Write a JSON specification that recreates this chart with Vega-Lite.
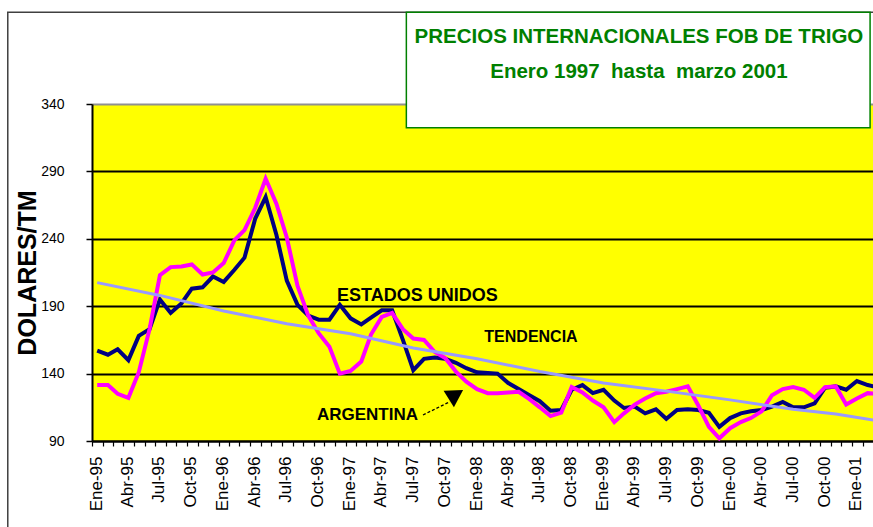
{
  "$schema": "https://vega.github.io/schema/vega-lite/v6.json",
  "width": 781,
  "height": 337,
  "autosize": "none",
  "padding": {"left": 92, "top": 104, "right": 0, "bottom": 86},
  "background": "#FFFFFF",
  "view": {"fill": "#FFFF00", "stroke": null},
  "config": {"font": "Liberation Sans"},
  "datasets": {
    "eeuu": [
      {"fecha": "1995-01-01", "v": 157}, {"fecha": "1995-02-01", "v": 154}, {"fecha": "1995-03-01", "v": 158}, {"fecha": "1995-04-01", "v": 150},
      {"fecha": "1995-05-01", "v": 168}, {"fecha": "1995-06-01", "v": 173}, {"fecha": "1995-07-01", "v": 195}, {"fecha": "1995-08-01", "v": 185},
      {"fecha": "1995-09-01", "v": 192}, {"fecha": "1995-10-01", "v": 203}, {"fecha": "1995-11-01", "v": 204}, {"fecha": "1995-12-01", "v": 212},
      {"fecha": "1996-01-01", "v": 208}, {"fecha": "1996-02-01", "v": 217}, {"fecha": "1996-03-01", "v": 226}, {"fecha": "1996-04-01", "v": 255},
      {"fecha": "1996-05-01", "v": 271}, {"fecha": "1996-06-01", "v": 243}, {"fecha": "1996-07-01", "v": 209}, {"fecha": "1996-08-01", "v": 191},
      {"fecha": "1996-09-01", "v": 183}, {"fecha": "1996-10-01", "v": 180}, {"fecha": "1996-11-01", "v": 180}, {"fecha": "1996-12-01", "v": 191},
      {"fecha": "1997-01-01", "v": 181}, {"fecha": "1997-02-01", "v": 176.5}, {"fecha": "1997-03-01", "v": 181.5}, {"fecha": "1997-04-01", "v": 187},
      {"fecha": "1997-05-01", "v": 187}, {"fecha": "1997-06-01", "v": 165}, {"fecha": "1997-07-01", "v": 142.5}, {"fecha": "1997-08-01", "v": 151},
      {"fecha": "1997-09-01", "v": 152}, {"fecha": "1997-10-01", "v": 151}, {"fecha": "1997-11-01", "v": 148}, {"fecha": "1997-12-01", "v": 144},
      {"fecha": "1998-01-01", "v": 141}, {"fecha": "1998-02-01", "v": 140.5}, {"fecha": "1998-03-01", "v": 140}, {"fecha": "1998-04-01", "v": 133},
      {"fecha": "1998-05-01", "v": 128.5}, {"fecha": "1998-06-01", "v": 124}, {"fecha": "1998-07-01", "v": 119.5}, {"fecha": "1998-08-01", "v": 112.5},
      {"fecha": "1998-09-01", "v": 113}, {"fecha": "1998-10-01", "v": 128}, {"fecha": "1998-11-01", "v": 131.5}, {"fecha": "1998-12-01", "v": 125.5},
      {"fecha": "1999-01-01", "v": 128}, {"fecha": "1999-02-01", "v": 120}, {"fecha": "1999-03-01", "v": 114.5}, {"fecha": "1999-04-01", "v": 115.5},
      {"fecha": "1999-05-01", "v": 110.5}, {"fecha": "1999-06-01", "v": 113.5}, {"fecha": "1999-07-01", "v": 106.5}, {"fecha": "1999-08-01", "v": 113},
      {"fecha": "1999-09-01", "v": 113.5}, {"fecha": "1999-10-01", "v": 113}, {"fecha": "1999-11-01", "v": 111}, {"fecha": "1999-12-01", "v": 100.5},
      {"fecha": "2000-01-01", "v": 107}, {"fecha": "2000-02-01", "v": 110.5}, {"fecha": "2000-03-01", "v": 112}, {"fecha": "2000-04-01", "v": 113},
      {"fecha": "2000-05-01", "v": 115.5}, {"fecha": "2000-06-01", "v": 119}, {"fecha": "2000-07-01", "v": 115}, {"fecha": "2000-08-01", "v": 115},
      {"fecha": "2000-09-01", "v": 118}, {"fecha": "2000-10-01", "v": 129.5}, {"fecha": "2000-11-01", "v": 130.5}, {"fecha": "2000-12-01", "v": 128},
      {"fecha": "2001-01-01", "v": 134.5}, {"fecha": "2001-02-01", "v": 131.5}, {"fecha": "2001-03-01", "v": 130}
    ],
    "arg": [
      {"fecha": "1995-01-01", "v": 131.5}, {"fecha": "1995-02-01", "v": 131.5}, {"fecha": "1995-03-01", "v": 125}, {"fecha": "1995-04-01", "v": 122},
      {"fecha": "1995-05-01", "v": 141}, {"fecha": "1995-06-01", "v": 173}, {"fecha": "1995-07-01", "v": 213}, {"fecha": "1995-08-01", "v": 219},
      {"fecha": "1995-09-01", "v": 219.5}, {"fecha": "1995-10-01", "v": 221}, {"fecha": "1995-11-01", "v": 213.5}, {"fecha": "1995-12-01", "v": 215},
      {"fecha": "1996-01-01", "v": 222}, {"fecha": "1996-02-01", "v": 239}, {"fecha": "1996-03-01", "v": 246.5}, {"fecha": "1996-04-01", "v": 263},
      {"fecha": "1996-05-01", "v": 284.5}, {"fecha": "1996-06-01", "v": 266}, {"fecha": "1996-07-01", "v": 241}, {"fecha": "1996-08-01", "v": 205},
      {"fecha": "1996-09-01", "v": 183}, {"fecha": "1996-10-01", "v": 170}, {"fecha": "1996-11-01", "v": 160}, {"fecha": "1996-12-01", "v": 140},
      {"fecha": "1997-01-01", "v": 142}, {"fecha": "1997-02-01", "v": 149}, {"fecha": "1997-03-01", "v": 169}, {"fecha": "1997-04-01", "v": 182},
      {"fecha": "1997-05-01", "v": 185}, {"fecha": "1997-06-01", "v": 173}, {"fecha": "1997-07-01", "v": 166}, {"fecha": "1997-08-01", "v": 165},
      {"fecha": "1997-09-01", "v": 156}, {"fecha": "1997-10-01", "v": 151.5}, {"fecha": "1997-11-01", "v": 141.5}, {"fecha": "1997-12-01", "v": 134},
      {"fecha": "1998-01-01", "v": 128.5}, {"fecha": "1998-02-01", "v": 125.5}, {"fecha": "1998-03-01", "v": 125.5}, {"fecha": "1998-04-01", "v": 126},
      {"fecha": "1998-05-01", "v": 126.5}, {"fecha": "1998-06-01", "v": 121}, {"fecha": "1998-07-01", "v": 115}, {"fecha": "1998-08-01", "v": 108.5},
      {"fecha": "1998-09-01", "v": 111}, {"fecha": "1998-10-01", "v": 130}, {"fecha": "1998-11-01", "v": 126}, {"fecha": "1998-12-01", "v": 120},
      {"fecha": "1999-01-01", "v": 115}, {"fecha": "1999-02-01", "v": 104}, {"fecha": "1999-03-01", "v": 110.5}, {"fecha": "1999-04-01", "v": 117},
      {"fecha": "1999-05-01", "v": 121.5}, {"fecha": "1999-06-01", "v": 125.5}, {"fecha": "1999-07-01", "v": 126.5}, {"fecha": "1999-08-01", "v": 128.5},
      {"fecha": "1999-09-01", "v": 130.5}, {"fecha": "1999-10-01", "v": 116.5}, {"fecha": "1999-11-01", "v": 100.5}, {"fecha": "1999-12-01", "v": 92},
      {"fecha": "2000-01-01", "v": 99.5}, {"fecha": "2000-02-01", "v": 104}, {"fecha": "2000-03-01", "v": 107}, {"fecha": "2000-04-01", "v": 112},
      {"fecha": "2000-05-01", "v": 124}, {"fecha": "2000-06-01", "v": 128.5}, {"fecha": "2000-07-01", "v": 130}, {"fecha": "2000-08-01", "v": 128},
      {"fecha": "2000-09-01", "v": 122}, {"fecha": "2000-10-01", "v": 130}, {"fecha": "2000-11-01", "v": 130.5}, {"fecha": "2000-12-01", "v": 117},
      {"fecha": "2001-01-01", "v": 121.5}, {"fecha": "2001-02-01", "v": 125.5}, {"fecha": "2001-03-01", "v": 125}
    ],
    "tendencia": [
      {"fecha": "1995-01-01", "v": 207.5}, {"fecha": "1995-07-01", "v": 198}, {"fecha": "1996-01-01", "v": 186.5},
      {"fecha": "1996-07-01", "v": 177}, {"fecha": "1997-01-01", "v": 169.5}, {"fecha": "1997-07-01", "v": 159},
      {"fecha": "1998-01-01", "v": 151}, {"fecha": "1998-07-01", "v": 141.5}, {"fecha": "1999-01-01", "v": 133},
      {"fecha": "1999-07-01", "v": 127}, {"fecha": "2000-01-01", "v": 120.5}, {"fecha": "2000-07-01", "v": 113.5},
      {"fecha": "2000-11-01", "v": 110}, {"fecha": "2001-03-01", "v": 105}
    ]
  },
  "encoding": {
    "x": {
      "field": "fecha",
      "type": "temporal",
      "scale": {
        "type": "utc",
        "domain": [
          {"year": 1994, "month": 12, "date": 17, "utc": true},
          {"year": 2001, "month": 2, "date": 16, "hours": 10, "utc": true}
        ]
      },
      "axis": {
        "title": null,
        "grid": false,
        "tickCount": {"interval": "month", "step": 1},
        "labelExpr": "utcmonth(datum.value) % 3 === 0 ? ['Ene','Feb','Mar','Abr','May','Jun','Jul','Ago','Sep','Oct','Nov','Dic'][utcmonth(datum.value)] + '-' + utcFormat(datum.value, '%y') : ''",
        "labelAngle": -90,
        "labelFont": "Liberation Sans",
        "labelFontSize": 17,
        "labelColor": "#000000",
        "labelPadding": 10,
        "labelOverlap": false,
        "labelFlush": false,
        "tickOffset": -5,
        "labelOffset": 4,
        "domainColor": "#000000",
        "domainWidth": 2,
        "tickColor": "#000000",
        "tickSize": 5,
        "tickWidth": 1.2
      }
    },
    "y": {
      "field": "v",
      "type": "quantitative",
      "scale": {"domain": [90, 340], "nice": false, "zero": false},
      "axis": {
        "title": "DOLARES/TM",
        "values": [90, 140, 190, 240, 290, 340],
        "grid": true,
        "gridColor": {"condition": {"test": "datum.value === 340", "value": "#909090"}, "value": "#000000"},
        "gridWidth": 1.8,
        "domainColor": "#000000",
        "domainWidth": 2,
        "tickColor": "#000000",
        "tickSize": 6,
        "tickWidth": 1.5,
        "labelFont": "Liberation Sans",
        "labelFontSize": 14,
        "labelColor": "#000000",
        "labelPadding": 22,
        "titleFont": "Liberation Sans",
        "titleFontSize": 25,
        "titleFontWeight": "bold",
        "titleColor": "#000000",
        "titlePadding": 0
      }
    }
  },
  "layer": [
    {
      "data": {"values": [{"fecha": "1994-04-18", "v": 408, "fecha2": "2001-12-01", "v2": 0}]},
      "mark": {"type": "rect", "fillOpacity": 0, "stroke": "#404040", "strokeWidth": 1.5},
      "encoding": {"x2": {"field": "fecha2"}, "y2": {"field": "v2"}}
    },
    {
      "data": {"values": [{"fecha": "1997-06-11", "v": 408, "fecha2": "2001-02-08", "v2": 322.4}]},
      "mark": {"type": "rect", "fill": "#FFFFFF", "stroke": "#008000", "strokeWidth": 1.5},
      "encoding": {"x2": {"field": "fecha2"}, "y2": {"field": "v2"}}
    },
    {
      "data": {"values": [
        {"fecha": "1999-04-13", "v": 385, "t": "PRECIOS INTERNACIONALES FOB DE TRIGO"},
        {"fecha": "1999-04-13", "v": 359.1, "t": "Enero 1997\u00a0 hasta\u00a0 marzo 2001"}
      ]},
      "mark": {"type": "text", "font": "Liberation Sans", "fontSize": 20.5, "fontWeight": "bold", "color": "#008000", "align": "center", "baseline": "alphabetic"},
      "encoding": {"text": {"field": "t"}}
    },
    {
      "data": {"values": [
        {"fecha": "1996-11-23", "v": 197.6, "t": "ESTADOS UNIDOS"}
      ]},
      "mark": {"type": "text", "font": "Liberation Sans", "fontSize": 18, "fontWeight": "bold", "color": "#000000", "align": "left", "baseline": "middle"},
      "encoding": {"text": {"field": "t"}}
    },
    {
      "data": {"values": [
        {"fecha": "1998-01-22", "v": 167.2, "t": "TENDENCIA"}
      ]},
      "mark": {"type": "text", "font": "Liberation Sans", "fontSize": 16, "fontWeight": "bold", "color": "#000000", "align": "left", "baseline": "middle"},
      "encoding": {"text": {"field": "t"}}
    },
    {
      "data": {"values": [
        {"fecha": "1996-09-26", "v": 109.3, "t": "ARGENTINA"}
      ]},
      "mark": {"type": "text", "font": "Liberation Sans", "fontSize": 17, "fontWeight": "bold", "color": "#000000", "align": "left", "baseline": "middle"},
      "encoding": {"text": {"field": "t"}}
    },
    {
      "data": {"values": [{"fecha": "1997-07-29", "v": 109.3, "fecha2": "1997-10-15", "v2": 119.2}]},
      "mark": {"type": "rule", "color": "#000000", "strokeWidth": 1.3, "strokeDash": [3, 2]},
      "encoding": {"x2": {"field": "fecha2"}, "y2": {"field": "v2"}}
    },
    {
      "data": {"values": [{"fecha": "1997-11-01", "v": 124.5}]},
      "mark": {"type": "point", "shape": "triangle-up", "filled": true, "color": "#000000", "opacity": 1, "size": 380, "angle": 58}
    },
    {
      "data": {"name": "eeuu"},
      "mark": {"type": "line", "color": "#000080", "strokeWidth": 4}
    },
    {
      "data": {"name": "arg"},
      "mark": {"type": "line", "color": "#FF00FF", "strokeWidth": 4}
    },
    {
      "data": {"name": "tendencia"},
      "mark": {"type": "line", "color": "#9999FF", "strokeWidth": 3}
    }
  ]
}
